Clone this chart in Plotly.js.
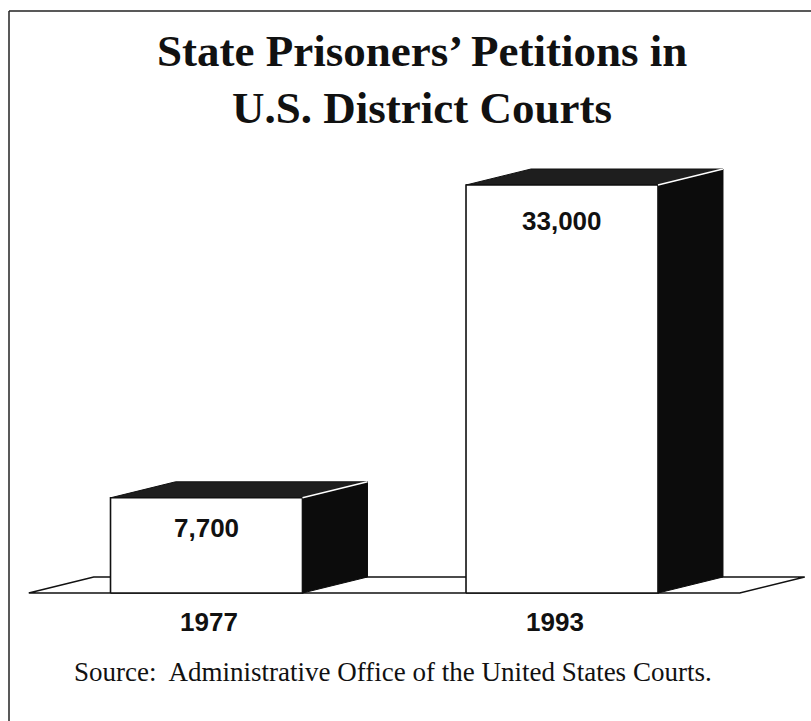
<!DOCTYPE html>
<html>
<head>
<meta charset="utf-8">
<script src="https://cdn.plot.ly/plotly-3.0.1.min.js"></script>
<style>html,body{margin:0;padding:0;background:#fff;}#chart{width:811px;height:721px;}</style>
</head>
<body>
<div id="chart"></div>
<script>
// ---- data ----
const categories = ["1977", "1993"];
const values = [7700, 33000];
const valueLabels = ["7,700", "33,000"];
const titleLines = ["State Prisoners’ Petitions in", "U.S. District Courts"];
const sourceText = "Source:  Administrative Office of the United States Courts.";

// ---- style / geometry of the pseudo-3D look ----
const W = 811, H = 721;
const pxPerCat = 355.5;          // pixels between category centres
const firstCatPx = 206.5;        // pixel x of first category centre
const basePx = 593;              // pixel y of value 0
const pxPerValue = 408 / 33000;  // vertical scale
const barWidth = 0.54;           // in category units
const depthXpx = 65, depthYpx = 16;
const depthX = depthXpx / pxPerCat;
const depthY = depthYpx / pxPerValue;
const valueLabelShift = [-13, -19];
const catLabelXShift = [2, -7];
const titleLineTops = [24, 81];

const xRange = [(0 - firstCatPx) / pxPerCat, (W - firstCatPx) / pxPerCat];
const yRange = [-(H - basePx) / pxPerValue, basePx / pxPerValue];

const traces = [];
const poly = (xs, ys, fill, lineColor, lw) => ({
  type: "scatter", mode: "lines", x: xs.concat([xs[0]]), y: ys.concat([ys[0]]),
  fill: "toself", fillcolor: fill, line: {color: lineColor, width: lw},
  hoverinfo: "skip", showlegend: false
});

// floor
const fx0 = -0.5, fx1 = categories.length - 0.5;
traces.push(poly([fx0, fx1, fx1 + depthX, fx0 + depthX], [0, 0, depthY, depthY], "#ffffff", "#111111", 1.6));

categories.forEach((c, i) => {
  const v = values[i];
  const x0 = i - barWidth / 2, x1 = i + barWidth / 2;
  // top face
  traces.push(poly([x0, x1, x1 + depthX, x0 + depthX], [v, v, v + depthY, v + depthY], "#1e1e1e", "#111111", 1));
  // side face
  traces.push(poly([x1, x1 + depthX, x1 + depthX, x1], [0, depthY, v + depthY, v], "#0c0c0c", "#0c0c0c", 1));
  // front face
  traces.push(poly([x0, x1, x1, x0], [0, 0, v, v], "#ffffff", "#111111", 1.6));
  // highlight edge
  traces.push({type: "scatter", mode: "lines", x: [x1, x1 + depthX], y: [v, v + depthY],
    line: {color: "#ffffff", width: 1.5}, hoverinfo: "skip", showlegend: false});
});

const annotations = [];
categories.forEach((c, i) => {
  annotations.push({x: i, y: values[i], xref: "x", yref: "y", text: "<b>" + valueLabels[i] + "</b>",
    showarrow: false, xanchor: "center", yanchor: "top", yshift: valueLabelShift[i],
    font: {family: "Liberation Sans, Arial, sans-serif", size: 26, color: "#111"}});
  annotations.push({x: i, y: 0, xref: "x", yref: "y", text: "<b>" + c + "</b>",
    showarrow: false, xanchor: "center", yanchor: "top", yshift: -12, xshift: catLabelXShift[i],
    font: {family: "Liberation Sans, Arial, sans-serif", size: 26, color: "#111"}});
});
titleLines.forEach((t, k) => {
  annotations.push({x: 422 / W, y: 1 - titleLineTops[k] / H, xref: "paper", yref: "paper",
    text: "<b>" + t + "</b>", showarrow: false, xanchor: "center", yanchor: "top",
    font: {family: "Liberation Serif, Times New Roman, serif", size: 45, color: "#111"}});
});
annotations.push({x: 393 / W, y: 1 - 672 / H, xref: "paper", yref: "paper", text: sourceText,
  showarrow: false, xanchor: "center", yanchor: "middle",
  font: {family: "Liberation Serif, Times New Roman, serif", size: 27, color: "#111"}});

const layout = {
  width: W, height: H,
  margin: {l: 0, r: 0, t: 0, b: 0, pad: 0},
  paper_bgcolor: "#ffffff", plot_bgcolor: "#ffffff",
  showlegend: false,
  xaxis: {range: xRange, visible: false, fixedrange: true},
  yaxis: {range: yRange, visible: false, fixedrange: true},
  annotations: annotations,
  shapes: [
    {type: "line", xref: "paper", yref: "paper", x0: 9 / W, x1: 1, y0: 1 - 11 / H, y1: 1 - 11 / H, line: {color: "#222", width: 1.5}},
    {type: "line", xref: "paper", yref: "paper", x0: 9 / W, x1: 9 / W, y0: 1 - 11 / H, y1: 0, line: {color: "#222", width: 1.5}}
  ]
};

Plotly.newPlot("chart", traces, layout, {staticPlot: true, displayModeBar: false});
</script>
</body>
</html>
